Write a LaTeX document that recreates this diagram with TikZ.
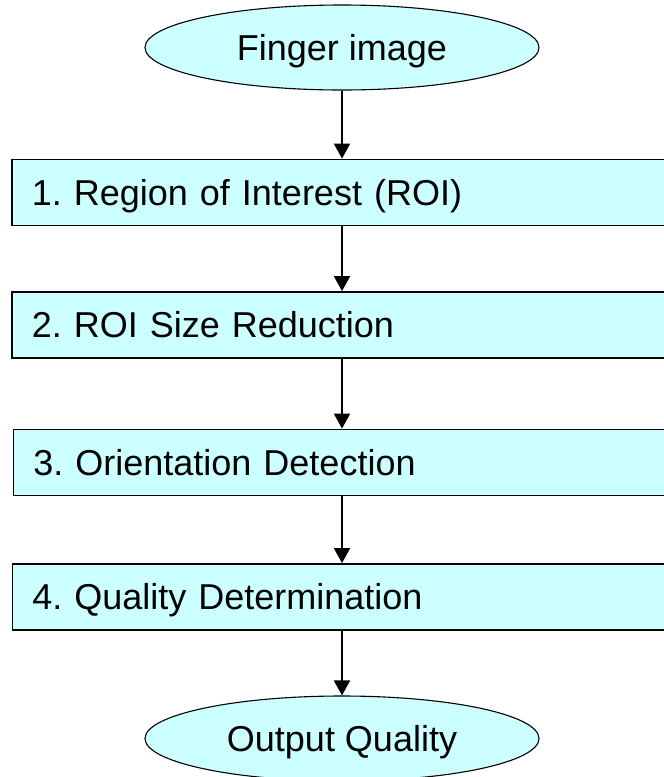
\documentclass[tikz,border=0pt]{standalone}
\usepackage{fontspec}
\setmainfont{Liberation Sans}
\usetikzlibrary{arrows.meta,shapes.geometric}
\definecolor{boxcyan}{HTML}{CCFFFF}
\begin{document}
\frenchspacing
\begin{tikzpicture}[x=1pt,y=-1pt,
  term/.style={ellipse,draw=black,line width=1.1pt,fill=boxcyan,
    minimum width=394pt,minimum height=85pt,inner sep=0pt,
    text height=25.8pt,text depth=0pt,
    font=\fontsize{36}{43}\selectfont},
  stepbox/.style={rectangle,draw=black,line width=1.8pt,fill=boxcyan,anchor=west,
    minimum width=680pt,minimum height=66pt,inner xsep=20pt,inner ysep=0pt,
    text height=25.8pt,text depth=0pt,
    text width=640pt,align=left,font=\fontsize{36}{43}\selectfont},
  flow/.style={line width=1.8pt,-{Triangle[width=16pt,length=15pt]}}]
\useasboundingbox (0,0) rectangle (664,777);
\clip (0,0) rectangle (664,777);
\node[term] (e1) at (342,47.5) {Finger image};
\node[stepbox] (b1) at (11,192.5) {1. Region of Interest (ROI)};
\node[stepbox] (b2) at (11,325) {2. ROI Size Reduction};
\node[stepbox] (b3) at (12.5,462.5) {3. Orientation Detection};
\node[stepbox] (b4) at (11.5,597) {4. Quality Determination};
\node[term] (e2) at (342,738.5) {Output Quality};
\draw[flow] (e1.south) -- (e1.south |- b1.north);
\draw[flow] (b1.south -| e1.south) -- (b2.north -| e1.south);
\draw[flow] (b2.south -| e1.south) -- (b3.north -| e1.south);
\draw[flow] (b3.south -| e1.south) -- (b4.north -| e1.south);
\draw[flow] (b4.south -| e2.north) -- (e2.north);
\end{tikzpicture}
\end{document}
